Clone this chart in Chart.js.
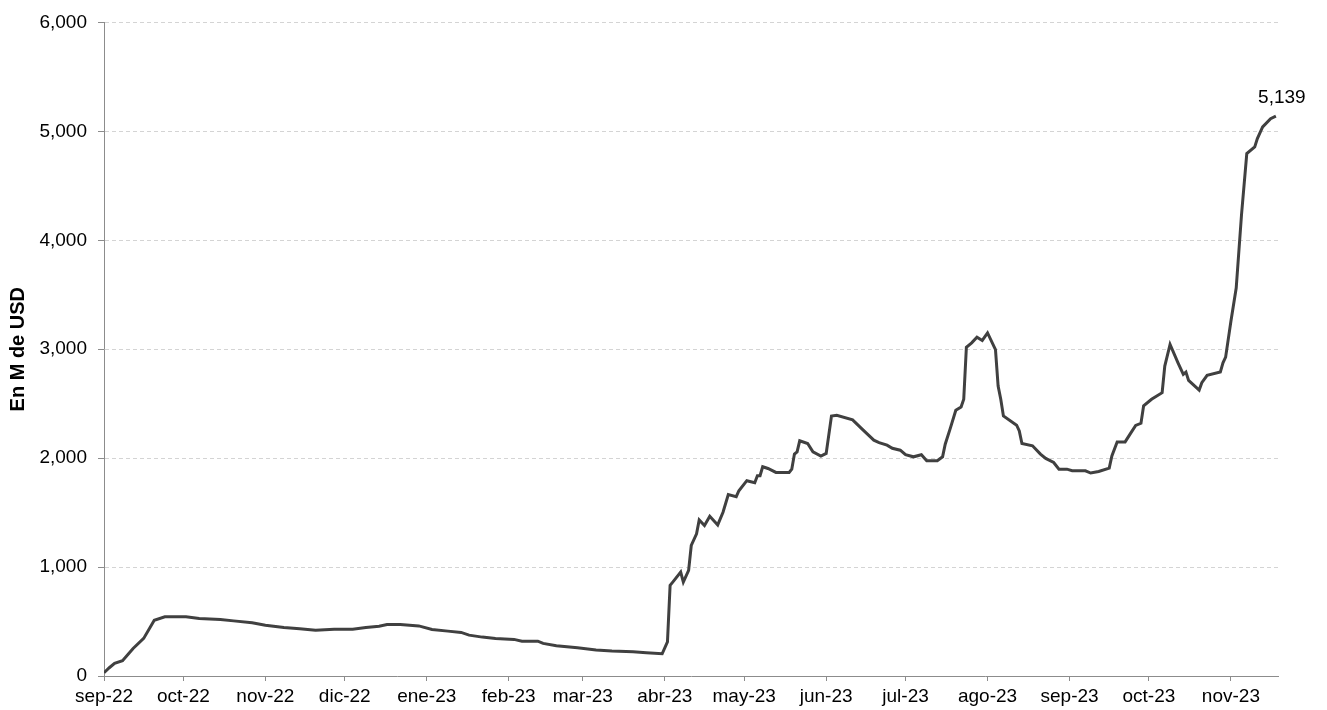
<!DOCTYPE html>
<html>
<head>
<meta charset="utf-8">
<script src="https://cdn.jsdelivr.net/npm/chart.js@4"></script>
<style>
  html, body { margin: 0; padding: 0; background: #ffffff; }
  #wrap { width: 1327px; height: 710px; }
</style>
</head>
<body>
<div id="wrap"><canvas id="c" width="1327" height="710"></canvas></div>
<script>
// Days elapsed since 2022-09-01
const dayOffsets = [0,2,4,7,11,15,19,23,31,36,44,49,56,61,68,74,80,87,94,99,
  104,107,112,119,124,130,135,138,143,148,155,158,164,166,171,179,186,192,200,205,
  211,213,214,215,218,219,221,222,224,225,227,229,232,234,236,239,240,243,246,247,
  248,249,251,254,259,260,261,262,263,266,268,271,273,275,277,283,287,289,291,293,
  296,298,301,303,306,309,311,315,317,318,320,322,324,325,326,328,330,332,334,337,
  338,339,340,345,346,347,351,354,356,359,361,364,366,371,373,376,380,381,383,386,
  388,390,392,393,396,400,401,403,406,408,409,410,414,415,417,422,423,424,426,428,
  430,432,435,436,438,441,443];
// Value in millions of USD
const valuesMUSD = [30,76,116,140,253,345,512,543,543,528,518,506,488,466,445,433,421,430,430,445,
  457,472,472,460,427,412,400,375,357,345,336,320,320,299,277,259,238,229,222,213,
  204,314,832,862,954,862,970,1198,1305,1433,1381,1466,1387,1503,1665,1646,1701,1793,1774,1838,
  1838,1921,1905,1869,1869,1899,2037,2058,2159,2134,2058,2018,2043,2387,2393,2351,2257,2211,2165,2143,
  2119,2091,2073,2031,2012,2031,1976,1976,2012,2128,2280,2439,2470,2540,3018,3058,3110,3080,3149,2997,
  2662,2540,2387,2302,2250,2134,2113,2037,1997,1960,1899,1899,1884,1884,1863,1878,1908,2021,2149,2149,
  2225,2300,2320,2480,2540,2601,2845,3043,2875,2769,2790,2714,2625,2692,2760,2790,2875,2927,3256,3561,
  4232,4796,4857,4933,5040,5116,5139];
// Month starts (days since 2022-09-01) and their labels
const monthTickDays = [0,30,61,91,122,153,181,212,242,273,303,334,365,395,426];
const monthLabels = ['sep-22','oct-22','nov-22','dic-22','ene-23','feb-23','mar-23','abr-23',
  'may-23','jun-23','jul-23','ago-23','sep-23','oct-23','nov-23'];
const yTickValues = [0,1000,2000,3000,4000,5000,6000];
const yTitle = 'En M de USD';

const points = dayOffsets.map((d, i) => ({ x: d, y: valuesMUSD[i] }));
const FONT = "'Liberation Sans', Arial, sans-serif";
const fmt = v => v.toLocaleString('en-US');

const lastLabelPlugin = {
  id: 'lastLabel',
  afterDatasetsDraw(chart) {
    const meta = chart.getDatasetMeta(0);
    const el = meta.data[meta.data.length - 1];
    const ctx = chart.ctx;
    ctx.save();
    ctx.font = "19px " + FONT;
    ctx.fillStyle = '#000';
    ctx.textAlign = 'center';
    ctx.textBaseline = 'alphabetic';
    ctx.fillText(fmt(valuesMUSD[valuesMUSD.length - 1]), el.x + 6, el.y - 13);
    ctx.restore();
  }
};

new Chart(document.getElementById('c'), {
  type: 'line',
  data: {
    datasets: [{
      data: points,
      borderColor: '#404040',
      borderWidth: 3,
      pointRadius: 0,
      tension: 0,
      fill: false
    }]
  },
  options: {
    responsive: false,
    animation: false,
    layout: { padding: { left: 0, right: 49, top: 20, bottom: 0 } },
    plugins: { legend: { display: false }, tooltip: { enabled: false } },
    scales: {
      x: {
        type: 'linear',
        min: 0,
        max: 443.8,
        afterBuildTicks: (s) => { s.ticks = monthTickDays.map(v => ({ value: v })); },
        afterFit: (s) => { s.height = 34; },
        grid: { drawOnChartArea: false, drawTicks: true, tickLength: 5, tickColor: '#8c8c8c', tickWidth: 1 },
        border: { display: true, color: '#8c8c8c', width: 1 },
        ticks: {
          autoSkip: false, maxRotation: 0, minRotation: 0, padding: 4,
          color: '#000', font: { family: FONT, size: 19 },
          callback: (v) => { const i = monthTickDays.indexOf(v); return i >= 0 ? monthLabels[i] : ''; }
        }
      },
      y: {
        min: 0,
        max: 6000,
        afterBuildTicks: (s) => { s.ticks = yTickValues.map(v => ({ value: v })); },
        afterFit: (s) => { s.width = 104; },
        grid: { color: '#d4d4d4', lineWidth: 1, drawTicks: true, tickLength: 6, tickColor: '#8c8c8c', tickBorderDash: [] },
        border: { display: true, color: '#8c8c8c', width: 1, dash: [4, 3] },
        ticks: {
          padding: 11, color: '#000', font: { family: FONT, size: 19 },
          callback: (v) => fmt(v)
        },
        title: {
          display: true, text: yTitle, color: '#000',
          font: { family: FONT, size: 20, weight: 'bold' },
          padding: { top: 6, bottom: 0 }
        }
      }
    }
  },
  plugins: [lastLabelPlugin]
});
</script>
</body>
</html>
